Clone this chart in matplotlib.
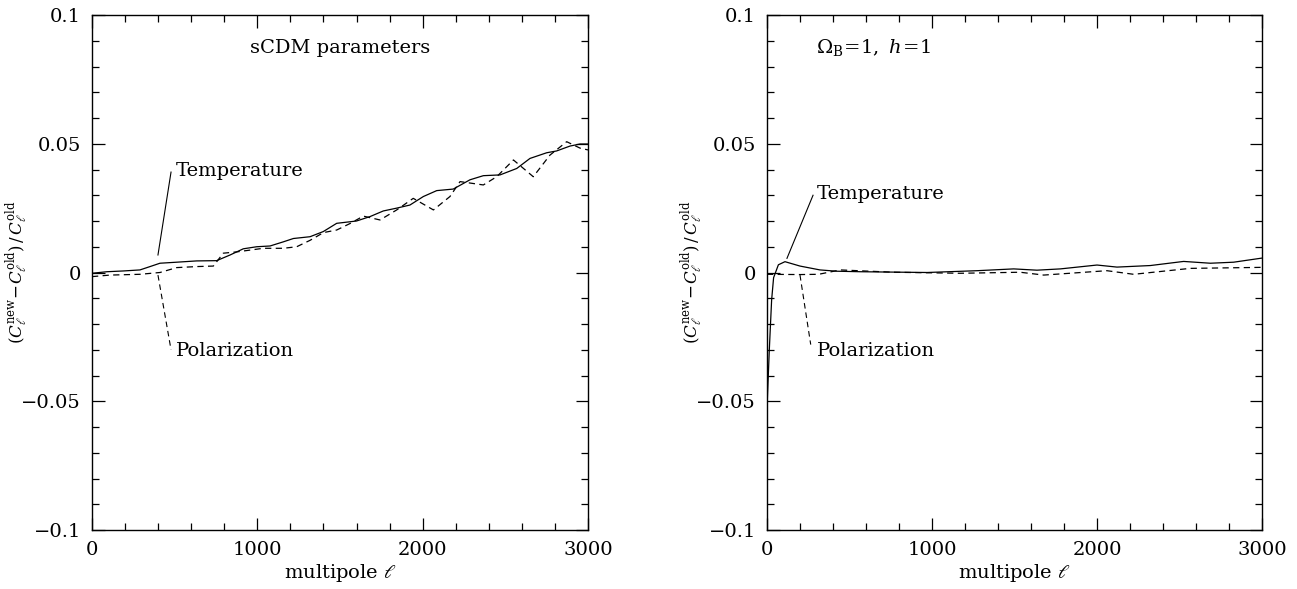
import matplotlib
matplotlib.use("Agg")
import matplotlib.pyplot as plt
from matplotlib.ticker import MultipleLocator, FixedLocator, FixedFormatter

plt.rcParams['font.family'] = ['DejaVu Serif']
plt.rcParams['mathtext.fontset'] = 'dejavuserif'

# ---- Left panel: sCDM parameters ----
l_left_T = [0, 90, 190, 290, 351, 411, 512, 633, 754, 835, 915, 996, 1077, 1157, 1218, 1319,
            1399, 1480, 1600, 1681, 1762, 1843, 1923, 2004, 2085, 2185, 2286, 2367, 2468,
            2569, 2649, 2750, 2810, 2891, 2952, 3000]
left_T = [-0.0003, 0.0003, 0.0006, 0.001, 0.0023, 0.0036, 0.004, 0.0045, 0.0046, 0.0068,
          0.0092, 0.0100, 0.0103, 0.0119, 0.0132, 0.0139, 0.0159, 0.0191, 0.0200, 0.0217,
          0.0239, 0.0250, 0.0262, 0.0295, 0.0318, 0.0324, 0.0360, 0.0376, 0.0379, 0.0404,
          0.0443, 0.0465, 0.0472, 0.0491, 0.0499, 0.0499]

l_left_P = [0, 109, 290, 411, 512, 633, 734, 794, 875, 956, 1036, 1157, 1238, 1319, 1400,
            1480, 1560, 1641, 1742, 1843, 1943, 2065, 2165, 2226, 2367, 2448, 2549, 2669,
            2770, 2871, 2952, 3000]
left_P = [-0.0016, -0.0010, -0.0007, 0.0000, 0.0019, 0.0023, 0.0025, 0.0075, 0.0080,
          0.0087, 0.0094, 0.0094, 0.0100, 0.0125, 0.0155, 0.0165, 0.0190, 0.0219, 0.0204,
          0.0243, 0.0288, 0.0243, 0.0295, 0.0353, 0.0340, 0.0372, 0.0437, 0.0372, 0.0456,
          0.0508, 0.0483, 0.0476]

# ---- Right panel: Omega_B = 1, h = 1 ----
l_right_T = [2, 14, 28, 40, 69, 109, 200, 321, 422, 566, 970, 1273, 1495, 1636, 1778, 2000,
             2121, 2323, 2525, 2687, 2828, 3000]
right_T = [-0.0495, -0.030, -0.0107, -0.002, 0.003, 0.0042, 0.0025, 0.0010, 0.0005, 0.0003,
           0.0000, 0.0007, 0.0014, 0.0009, 0.0014, 0.0029, 0.0021, 0.0027, 0.0043, 0.0036,
           0.0040, 0.0056]

l_right_P = [0, 200, 313, 444, 767, 1172, 1535, 1677, 2060, 2222, 2565, 3000]
right_P = [-0.0007, -0.0008, -0.0007, 0.0010, 0.0001, -0.0003, 0.0001, -0.0010, 0.0007,
           -0.0007, 0.0016, 0.0020]

ytick_vals = [-0.1, -0.05, 0, 0.05, 0.1]
ytick_labels = ['\u22120.1', '\u22120.05', '0', '0.05', '0.1']
xtick_vals = [0, 1000, 2000, 3000]
xtick_labels = ['0', '1000', '2000', '3000']

fig = plt.figure(figsize=(12.97, 5.89), dpi=100)
W, H = 1297, 589
axL = fig.add_axes([92 / W, 59 / H, 496 / W, 515 / H])
axR = fig.add_axes([767 / W, 59 / H, 495 / W, 515 / H])

for ax in (axL, axR):
    ax.set_xlim(0, 3000)
    ax.set_ylim(-0.1, 0.1)
    ax.xaxis.set_major_locator(FixedLocator(xtick_vals))
    ax.xaxis.set_major_formatter(FixedFormatter(xtick_labels))
    ax.xaxis.set_minor_locator(MultipleLocator(200))
    ax.yaxis.set_major_locator(FixedLocator(ytick_vals))
    ax.yaxis.set_major_formatter(FixedFormatter(ytick_labels))
    ax.yaxis.set_minor_locator(MultipleLocator(0.01))
    ax.tick_params(which='both', direction='in', top=True, right=True, labelsize=14,
                   width=0.9, pad=8)
    ax.tick_params(which='major', length=9)
    ax.tick_params(which='minor', length=5)
    for s in ax.spines.values():
        s.set_linewidth(1.0)
    ax.set_xlabel(r'multipole $\ell$', fontsize=14, labelpad=2)
    ax.set_ylabel(r'$(C_\ell^{\rm new}\!-\!C_\ell^{\rm old})\,/\,C_\ell^{\rm old}$',
                  fontsize=12)
    ax.yaxis.set_label_coords(-0.125, 0.5)

lw = 0.9
dash = (0, (5, 3.5))
axL.plot(l_left_T, left_T, color='black', lw=lw)
axL.plot(l_left_P, left_P, color='black', lw=lw, ls=dash)
axL.plot([399, 478], [0.0068, 0.039], color='black', lw=0.8)
axL.plot([399, 478], [-0.001, -0.030], color='black', lw=0.8, ls=dash)
axL.text(508, 0.0395, 'Temperature', fontsize=14, va='center', ha='left')
axL.text(508, -0.0305, 'Polarization', fontsize=14, va='center', ha='left')
axL.text(1500, 0.0872, 'sCDM parameters', fontsize=14, va='center', ha='center')

axR.plot(l_right_T, right_T, color='black', lw=lw)
axR.plot(l_right_P, right_P, color='black', lw=lw, ls=dash)
axR.plot([121, 279], [0.0055, 0.030], color='black', lw=0.8)
axR.plot([200, 265], [-0.001, -0.028], color='black', lw=0.8, ls=dash)
axR.text(303, 0.0305, 'Temperature', fontsize=14, va='center', ha='left')
axR.text(303, -0.0305, 'Polarization', fontsize=14, va='center', ha='left')
axR.text(300, 0.0872, r'$\Omega_{\rm B}\!=\!1,\ h\!=\!1$', fontsize=14, va='center', ha='left')

fig.savefig('out.png', dpi=100, facecolor='white')
